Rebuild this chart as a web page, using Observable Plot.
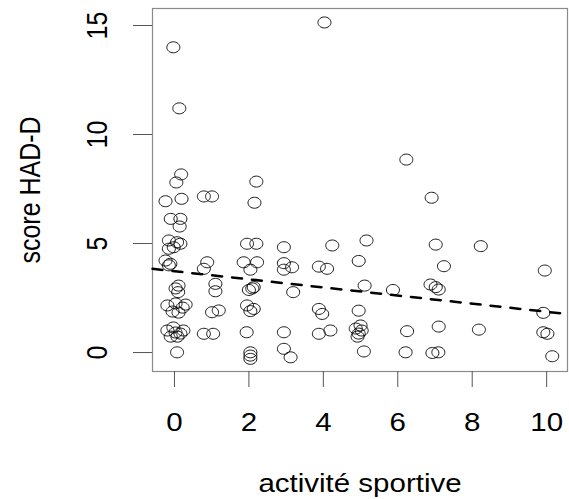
<!DOCTYPE html>
<html>
<head>
<meta charset="utf-8">
<script src="https://cdn.jsdelivr.net/npm/d3@7"></script>
<script src="https://cdn.jsdelivr.net/npm/@observablehq/plot@0.6"></script>
<style>
  html, body { margin: 0; padding: 0; background: #fff; }
  #chart svg { display: block; }
</style>
</head>
<body>
<div id="chart"></div>
<script>
// activité sportive (jittered x values)
const activite = [
  -0.03, 0.13, 0.18, 0.05,
  -0.24, 0.19,
  -0.10, 0.16, 0.14,
  -0.15, 0.07, 0.16, -0.02, -0.15,
  -0.24, -0.15, -0.11,
  0.03, 0.11, 0.10,
  -0.19, 0.03, 0.22, -0.05, 0.11, 0.30,
  -0.19, -0.03, 0.16, -0.10, 0.08, 0.24, 0.03,
  0.07,
  0.79, 1.01, 0.88, 0.79, 1.10, 1.10, 1.01, 1.19, 0.79, 1.04,
  2.20, 2.15, 1.95, 2.20, 1.86, 2.22, 2.04, 2.09, 2.00, 2.13,
  1.95, 2.04, 2.13, 1.94, 2.04, 2.04, 2.04,
  2.94, 2.94, 3.16, 2.94, 3.19, 2.94, 2.94, 3.12,
  4.03, 4.24, 3.88, 4.10, 3.88, 3.97, 3.88, 4.19,
  5.16, 4.95, 5.11, 4.95, 4.87, 4.95, 5.03, 4.92, 5.00, 5.09,
  6.23, 5.87, 6.25, 6.21,
  6.91, 7.02, 7.24, 6.88, 7.02, 7.10, 7.10, 6.93, 7.09,
  8.23, 8.18,
  9.95, 9.91, 9.91, 10.02, 10.15
];
// score HAD-D (jittered y values)
const scoreHADD = [
  14.0, 11.2, 8.17, 7.8,
  6.94, 7.05,
  6.13, 6.13, 5.78,
  5.14, 5.06, 4.99, 4.83, 4.76,
  4.22, 4.0, 4.07,
  2.94, 3.07, 2.77,
  2.16, 2.25, 2.06, 1.88, 1.83, 2.2,
  1.01, 1.15, 0.87, 0.73, 0.73, 1.01, 0.92,
  0.01,
  7.16, 7.16, 4.14, 3.84, 3.15, 2.81, 1.85, 1.93, 0.86, 0.86,
  7.84, 6.87, 4.99, 4.99, 4.14, 4.14, 3.8, 2.94, 2.87, 3.0,
  2.16, 1.9, 2.0, 0.93, 0.01, -0.14, -0.29,
  4.83, 4.1, 3.91, 3.8, 2.77, 0.93, 0.17, -0.22,
  15.14, 4.91, 3.94, 3.84, 2.0, 1.77, 0.86, 1.01,
  5.14, 4.2, 3.07, 1.92, 1.1, 0.87, 1.01, 0.73, 1.24, 0.05,
  8.85, 2.87, 0.98, 0.01,
  7.1, 4.95, 3.96, 3.12, 3.0, 2.89, 1.19, -0.02, 0.01,
  4.88, 1.05,
  3.76, 1.82, 0.93, 0.86, -0.17
];
// regression line (abline) coefficients
const intercept = 3.73;
const slope = -0.186;

const xTicks = [0, 2, 4, 6, 8, 10];
const yTicks = [0, 5, 10, 15];
const xLabel = "activité sportive";
const yLabel = "score HAD-D";

const xDomain = [-0.59, 10.56];
const yDomain = [-0.87, 15.78];

const points = activite.map((x, i) => ({x, y: scoreHADD[i]}));
const fitLine = xDomain.map(x => ({x, y: intercept + slope * x}));

// slightly wide open circle (the reference is horizontally stretched)
const STRETCH = 1.18;
const ellipse = {
  draw(context) {
    const rx = 6.5, ry = 5.5, k = 0.5523;
    context.moveTo(rx, 0);
    context.bezierCurveTo(rx, k * ry, k * rx, ry, 0, ry);
    context.bezierCurveTo(-k * rx, ry, -rx, k * ry, -rx, 0);
    context.bezierCurveTo(-rx, -k * ry, -k * rx, -ry, 0, -ry);
    context.bezierCurveTo(k * rx, -ry, rx, -k * ry, rx, 0);
    context.closePath();
  }
};

const FS = 25;
const chart = Plot.plot({
  width: 569,
  height: 499,
  marginLeft: 152,
  marginRight: 2,
  marginTop: 8,
  marginBottom: 128,
  x: {domain: xDomain},
  y: {domain: yDomain},
  style: {fontFamily: "'Liberation Sans', Arial, sans-serif", fontSize: FS + "px", background: "#fff", color: "#000"},
  marks: [
    Plot.frame({stroke: "#8a8a8a", strokeWidth: 1.2}),
    Plot.axisX({ticks: xTicks, tickSize: 16, tickFormat: () => "", stroke: "#555", label: null}),
    Plot.axisY({ticks: yTicks, tickSize: 19, tickFormat: () => "", stroke: "#555", label: null}),
    Plot.text(xTicks, {x: d => d, text: d => String(d), frameAnchor: "bottom", dy: 51, textAnchor: "middle", lineAnchor: "middle", fontSize: FS}),
    Plot.text(yTicks, {y: d => d, text: d => String(d), frameAnchor: "left", dx: -55, rotate: -90, textAnchor: "middle", lineAnchor: "middle", fontSize: FS}),
    Plot.text([yLabel], {text: d => d, frameAnchor: "left", dx: -122, rotate: -90, textAnchor: "middle", lineAnchor: "middle", fontSize: FS}),
    Plot.text([xLabel], {text: d => d, frameAnchor: "bottom", dy: 112, textAnchor: "middle", lineAnchor: "middle", fontSize: FS}),
    Plot.dot(points, {x: "x", y: "y", symbol: ellipse, stroke: "#000", strokeWidth: 0.9, fill: "none"}),
    Plot.line(fitLine, {x: "x", y: "y", stroke: "#000", strokeWidth: 2.5, strokeDasharray: "10,10"})
  ]
});

document.getElementById("chart").appendChild(chart);

// emulate the horizontal stretch of the reference's lettering:
// wrap each text in a group scaled horizontally about its own centre
const SVGNS = "http://www.w3.org/2000/svg";
Array.from(chart.querySelectorAll("text")).forEach(node => {
  if (!node.textContent) return;
  const g = document.createElementNS(SVGNS, "g");
  node.parentNode.insertBefore(g, node);
  g.appendChild(node);
  const b = g.getBBox();
  const cx = b.x + b.width / 2;
  g.setAttribute("transform", `translate(${cx},0) scale(${STRETCH},1) translate(${-cx},0)`);
});
</script>
</body>
</html>
